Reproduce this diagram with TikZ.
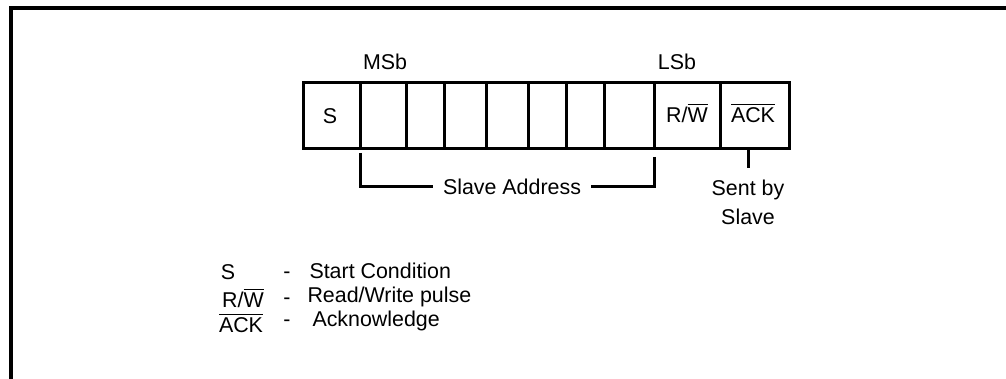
\documentclass[tikz,border=0pt]{standalone}
\usepackage{fontspec}
\setmainfont{Liberation Sans}
\usepackage{tikz}

\begin{document}
\begin{tikzpicture}[x=0.5pt,y=-0.5pt,line width=1.5pt,
  every node/.style={font=\fontsize{10.7}{14.5}\selectfont}]
\useasboundingbox (0,0) rectangle (1006,379);
\draw[line width=2pt] (1006,8) -- (11,8) -- (11,379);

\draw (303,83) rectangle (789,149);
\foreach \x in {360,406,444,486,528,566,604,654,720}
  \draw (\x,83) -- (\x,149);

\node (msb) at (385,62) {MSb};
\node (lsb) at (677,62) {LSb};

\node (s) at (330,116) {S};
\node (rw) at (687,113) {R/$\overline{\mbox{W}}$};
\node (ack) at (753,113) {$\overline{\mbox{ACK}}$};

\coordinate (msbbit) at (360,153);
\coordinate (lsbbit) at (654,157);
\node[inner xsep=4.5pt] (addr) at (512,187) {Slave Address};
\draw (msbbit) |- (addr.west);
\draw (lsbbit) |- (addr.east);

\coordinate (acktick) at (748,150);
\node[align=center,anchor=north,inner ysep=5pt] (sent) at (748,168) {Sent by\\Slave};
\draw (acktick) -- (sent.north);

\node (ls) at (228,272) {S};
\node (lrw) at (243,298) {R/$\overline{\mbox{W}}$};
\node (lack) at (241,323) {$\overline{\mbox{ACK}}$};
\node (d1) at (287,275) {-};
\node (d2) at (287,301) {-};
\node (d3) at (287,323) {-};
\node[anchor=west,inner xsep=0pt] (t1) at (308,271) {Start Condition};
\node[anchor=west,inner xsep=0pt] (t2) at (306,297) {Read/Write pulse};
\node[anchor=west,inner xsep=0pt] (t3) at (311,321) {Acknowledge};
\end{tikzpicture}
\end{document}
